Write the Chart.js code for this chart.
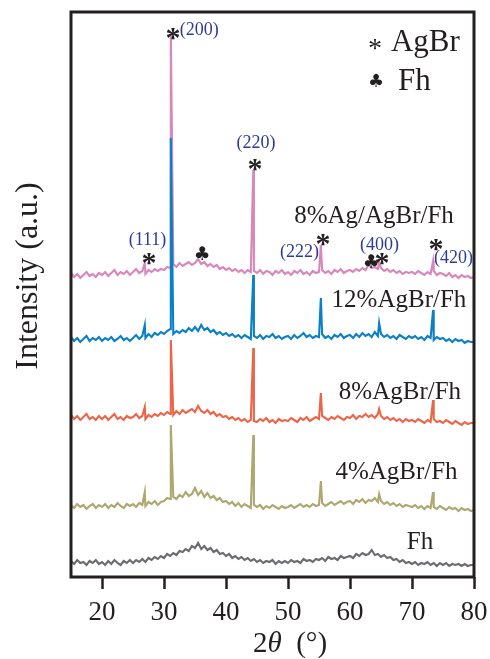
<!DOCTYPE html>
<html>
<head>
<meta charset="utf-8">
<script src="https://cdn.jsdelivr.net/npm/chart.js@4.4.1/dist/chart.umd.min.js"></script>
<style>
  html, body { margin: 0; padding: 0; background: #fff; }
  #wrap { width: 490px; height: 659px; }
</style>
</head>
<body>
<div id="wrap"><canvas id="xrd" width="490" height="659"></canvas></div>
<script>
'use strict';

// ── DATA ───────────────────────────────────────────────────
// 2θ grid: 15.0 → 80.0 in 0.5° steps (131 points)
const twoTheta = Array.from({ length: 131 }, (_, i) => 15 + i * 0.5);

// AgBr reflections (111) (200) (220) (222) (400) (420)
const peakPos = [26.9, 31.1, 44.4, 55.3, 64.7, 73.4];

const fhBase = [
  16, 13, 17, 14, 15, 12, 16, 14, 17, 13,
  15, 12, 16, 13, 17, 14, 12, 16, 14, 17,
  14, 17, 15, 18, 15, 19, 17, 20, 18, 21,
  19, 23, 21, 24, 22, 26, 25, 28, 26, 31,
  29, 34, 28, 31, 27, 29, 25, 27, 23, 24,
  21, 23, 19, 21, 18, 20, 17, 19, 16, 18,
  15, 17, 14, 16, 15, 17, 13, 16, 14, 16,
  14, 17, 15, 16, 14, 18, 16, 17, 15, 18,
  17, 19, 16, 20, 18, 19, 17, 21, 19, 20,
  21, 19, 23, 21, 24, 22, 23, 27, 22, 23,
  20, 22, 19, 20, 17, 18, 15, 17, 14, 15,
  13, 15, 12, 14, 13, 15, 12, 14, 11, 14,
  12, 14, 11, 13, 12, 13, 11, 13, 11, 12,
  12
];
const fhPeaks = [];

const agbr4Base = [
  72, 69, 73, 70, 72, 68, 71, 73, 69, 72,
  70, 73, 69, 72, 70, 74, 71, 69, 73, 71,
  73, 70, 74, 72, 71, 75, 73, 76, 72, 75,
  76, 79, 78, 80, 78, 82, 80, 85, 81, 83,
  89, 82, 86, 80, 84, 79, 81, 77, 79, 75,
  76, 73, 75, 71, 74, 70, 73, 71, 69, 72,
  70, 72, 68, 71, 69, 72, 70, 68, 71, 69,
  70, 72, 69, 71, 73, 70, 72, 70, 73, 71,
  72, 74, 71, 73, 75, 72, 74, 76, 73, 75,
  76, 73, 77, 75, 78, 74, 77, 76, 79, 75,
  76, 73, 75, 72, 74, 71, 73, 70, 72, 71,
  70, 72, 69, 71, 68, 71, 69, 70, 68, 71,
  69, 67, 70, 68, 69, 66, 69, 67, 68, 66,
  67
];
const agbr4Peaks = [85, 152, 142, 96, 83, 85];

const agbr8Base = [
  162, 158, 161, 157, 160, 163, 158, 160, 157, 161,
  158, 161, 157, 160, 163, 158, 160, 157, 161, 159,
  160, 163, 159, 161, 158, 162, 160, 163, 161, 164,
  162, 165, 163, 162, 166, 163, 167, 164, 166, 168,
  165, 171, 166, 164, 167, 163, 165, 161, 163, 160,
  161, 158, 160, 157, 159, 156, 158, 155, 157, 156,
  155, 158, 156, 159, 155, 157, 154, 158, 156, 157,
  156, 159, 157, 155, 159, 157, 160, 156, 158, 160,
  158, 161, 159, 157, 160, 158, 161, 159, 157, 160,
  159, 162, 158, 161, 160, 163, 160, 162, 159, 163,
  161, 158, 160, 157, 159, 156, 158, 155, 158, 156,
  157, 155, 158, 156, 154, 157, 155, 158, 155, 156,
  154, 157, 155, 153, 156, 154, 152, 155, 153, 154,
  154
];
const agbr8Peaks = [170, 237, 229, 184, 168, 177];

const agbr12Base = [
  240, 236, 239, 235, 238, 241, 236, 239, 237, 240,
  236, 239, 237, 240, 236, 238, 241, 237, 239, 236,
  239, 242, 238, 241, 239, 243, 240, 244, 242, 245,
  243, 246, 248, 243, 246, 244, 247, 245, 249, 246,
  250, 246, 252, 247, 249, 245, 247, 243, 245, 242,
  244, 241, 243, 240, 242, 239, 242, 240, 238, 241,
  239, 242, 238, 241, 240, 243, 239, 241, 238, 240,
  241, 238, 242, 239, 241, 244, 240, 242, 239, 241,
  240, 243, 239, 241, 238, 242, 240, 243, 239, 241,
  242, 239, 243, 240, 244, 241, 243, 240, 245, 241,
  243, 240, 242, 239, 241, 238, 242, 240, 238, 241,
  239, 241, 238, 240, 237, 241, 239, 237, 240, 238,
  239, 236, 238, 235, 238, 236, 237, 234, 236, 235,
  235
];
const agbr12Peaks = [252, 439, 302, 279, 254, 267];

const agAgbrBase = [
  304, 300, 303, 299, 302, 305, 301, 303, 300, 304,
  302, 305, 301, 304, 307, 302, 305, 303, 306, 302,
  305, 308, 304, 306, 303, 307, 305, 308, 306, 308,
  307, 310, 309, 313, 310, 314, 311, 313, 315, 312,
  314, 318, 313, 315, 311, 313, 310, 312, 308, 310,
  307, 309, 306, 308, 305, 307, 304, 307, 305, 306,
  304, 307, 303, 306, 305, 302, 306, 304, 307, 303,
  305, 302, 306, 304, 307, 303, 305, 302, 306, 304,
  305, 307, 304, 306, 303, 307, 305, 308, 304, 306,
  307, 305, 308, 306, 309, 307, 312, 309, 310, 308,
  309, 306, 308, 305, 307, 304, 306, 303, 305, 304,
  305, 303, 306, 304, 302, 305, 303, 306, 302, 304,
  303, 301, 304, 300, 302, 299, 302, 300, 301, 299,
  300
];
const agAgbrPeaks = [314, 542, 407, 332, 315, 316];

const seriesNames = ['Fh', '4%AgBr/Fh', '8%AgBr/Fh', '12%AgBr/Fh', '8%Ag/AgBr/Fh'];
const xTicks = [20, 30, 40, 50, 60, 70, 80];

// ── STYLE ──────────────────────────────────────────────────
const COLORS = ['#6c6c70', '#aea770', '#ec6548', '#0a80c6', '#d886bb'];
const INK = '#231f20';
const HKL_BLUE = '#2e3a98';
const SERIF = '"Liberation Serif", "Times New Roman", serif';

// ── ANNOTATIONS (data coordinates) ─────────────────────────
const marks = [
  // AgBr stars / Fh clubs
  { x: 31.45, y: 545, t: '*', k: 'star' },
  { x: 44.68, y: 414, t: '*', k: 'star' },
  { x: 27.58, y: 320, t: '*', k: 'star' },
  { x: 55.65, y: 339, t: '*', k: 'star' },
  { x: 65.16, y: 320, t: '*', k: 'star' },
  { x: 73.87, y: 334, t: '*', k: 'star' },
  { x: 36.13, y: 322, t: '\u2663', k: 'club' },
  { x: 63.39, y: 314, t: '\u2663', k: 'club' },
  // Miller indices
  { x: 32.55, y: 547, t: '(200)', k: 'hkl', align: 'left' },
  { x: 44.84, y: 434, t: '(220)', k: 'hkl' },
  { x: 27.34, y: 337, t: '(111)', k: 'hkl' },
  { x: 51.85, y: 325, t: '(222)', k: 'hkl' },
  { x: 64.76, y: 332, t: '(400)', k: 'hkl' },
  { x: 76.69, y: 319, t: '(420)', k: 'hkl' },
  // sample names
  { x: 63.87, y: 361, t: seriesNames[4], k: 'name' },
  { x: 67.9, y: 277, t: seriesNames[3], k: 'name' },
  { x: 68.06, y: 185, t: seriesNames[2], k: 'name' },
  { x: 67.5, y: 105, t: seriesNames[1], k: 'name' },
  { x: 71.29, y: 35, t: seriesNames[0], k: 'name' },
  // key
  { x: 64.03, y: 534, t: '*', k: 'keystar' },
  { x: 66.61, y: 534, t: 'AgBr', k: 'key', align: 'left' },
  { x: 64.19, y: 495, t: '\u2663', k: 'keyclub' },
  { x: 67.74, y: 495, t: 'Fh', k: 'key', align: 'left' }
];

function buildSeries(base, peaks) {
  const pts = twoTheta.map((t, i) => ({ x: t, y: base[i] }));
  peaks.forEach((h, i) => pts.push({ x: peakPos[i], y: h }));
  return pts.sort((a, b) => a.x - b.x);
}

// ── PLUGIN: frame, marks, axis titles ──────────────────────
const decor = {
  id: 'decor',
  afterDatasetsDraw(chart) {
    const { ctx, chartArea: a, scales } = chart;
    ctx.save();
    ctx.strokeStyle = INK;
    ctx.lineWidth = 3;
    ctx.strokeRect(a.left, a.top, a.right - a.left, a.bottom - a.top);

    marks.forEach(m => {
      const px = scales.x.getPixelForValue(m.x);
      const py = scales.y.getPixelForValue(m.y);
      ctx.textAlign = m.align || 'center';
      ctx.textBaseline = 'middle';
      ctx.fillStyle = INK;
      if (m.k === 'star' || m.k === 'keystar') {
        const s = m.k === 'star' ? 30 : 28;
        ctx.font = (m.k === 'star' ? 'bold ' : '') + s + 'px ' + SERIF;
        ctx.textBaseline = 'alphabetic';
        ctx.fillText(m.t, px, py + s * 0.5);
      } else if (m.k === 'club' || m.k === 'keyclub') {
        ctx.font = (m.k === 'club' ? 19 : 18) + 'px "DejaVu Sans"';
        ctx.fillText(m.t, px, py);
      } else if (m.k === 'hkl') {
        ctx.fillStyle = HKL_BLUE;
        ctx.font = '18px ' + SERIF;
        ctx.fillText(m.t, px, py);
      } else if (m.k === 'name') {
        ctx.font = '25px ' + SERIF;
        ctx.fillText(m.t, px, py);
      } else {
        ctx.font = '31px ' + SERIF;
        ctx.fillText(m.t, px, py);
      }
    });

    // x title: 2θ (°)
    ctx.fillStyle = INK;
    ctx.textBaseline = 'middle';
    ctx.textAlign = 'left';
    const parts = [['2', ''], ['\u03b8', 'italic '], ['  (\u00b0)', '']];
    let w = 0;
    parts.forEach(p => { ctx.font = p[1] + '29px ' + SERIF; w += ctx.measureText(p[0]).width; });
    let cx = 290 - w / 2;
    parts.forEach(p => {
      ctx.font = p[1] + '29px ' + SERIF;
      ctx.fillText(p[0], cx, 644);
      cx += ctx.measureText(p[0]).width;
    });

    // y title
    ctx.translate(29, 276);
    ctx.rotate(-Math.PI / 2);
    ctx.textAlign = 'center';
    ctx.font = '32px ' + SERIF;
    ctx.fillText('Intensity (a.u.)', 0, 0);
    ctx.restore();
  }
};

// ── CHART ──────────────────────────────────────────────────
const bases = [fhBase, agbr4Base, agbr8Base, agbr12Base, agAgbrBase];
const peakSets = [fhPeaks, agbr4Peaks, agbr8Peaks, agbr12Peaks, agAgbrPeaks];

new Chart(document.getElementById('xrd'), {
  type: 'line',
  data: {
    datasets: seriesNames.map((name, i) => ({
      label: name,
      data: buildSeries(bases[i], peakSets[i]),
      borderColor: COLORS[i],
      borderWidth: 2.1,
      pointRadius: 0,
      tension: 0,
      fill: false
    }))
  },
  options: {
    responsive: false,
    animation: false,
    devicePixelRatio: 1,
    layout: { padding: { left: 71, right: 16, top: 12, bottom: 0 } },
    plugins: { legend: { display: false }, tooltip: { enabled: false } },
    scales: {
      x: {
        type: 'linear',
        min: 15,
        max: 80,
        afterFit: axis => {
          axis.height = 82;
          axis.paddingLeft = 0;
          axis.paddingRight = 0;
        },
        afterBuildTicks: axis => { axis.ticks = xTicks.map(v => ({ value: v })); },
        border: { display: false },
        grid: { drawOnChartArea: false, drawTicks: true, tickLength: 12, tickWidth: 2.5, tickColor: INK },
        ticks: { color: INK, font: { family: SERIF, size: 27 }, padding: 8, maxRotation: 0 }
      },
      y: {
        min: 0,
        max: 565,
        display: false
      }
    }
  },
  plugins: [decor]
});
</script>
</body>
</html>
